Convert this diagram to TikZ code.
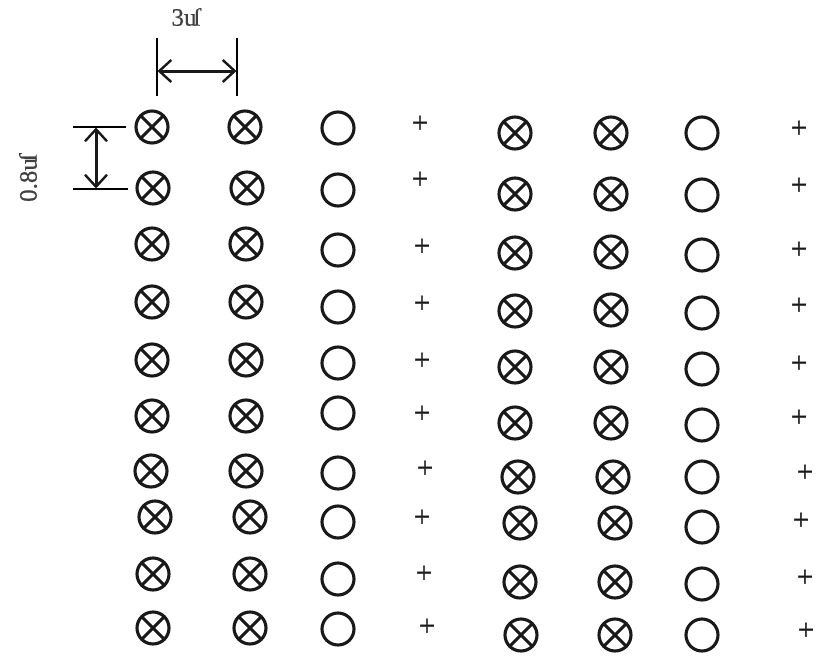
\documentclass[tikz,border=0pt]{standalone}
\usepackage{fontspec}
\setmainfont{Liberation Serif}
\newfontfamily\labfont[FakeBold=0.5]{Liberation Serif}
\newfontfamily\plusfont[FakeBold=1.5]{Liberation Serif}
\usetikzlibrary{arrows.meta}
\newcommand{\flipmu}{u\kern-0.12em ſ}
\tikzset{
  x=1pt,y=-1pt,
  ring/.style={circle,draw=black!90,line width=3.1pt,minimum size=32pt,inner sep=0pt},
  xring/.style={ring,path picture={
    \draw[black!90,line width=3pt] (path picture bounding box.south west)--(path picture bounding box.north east)
      (path picture bounding box.north west)--(path picture bounding box.south east);}},
  plusmark/.style={inner sep=0pt,font=\plusfont\fontsize{29}{29}\selectfont,text=black!90,yshift=-2pt},
  lab/.style={inner sep=0pt,font=\labfont\fontsize{25}{25}\selectfont,text=black!75},
  dimtick/.style={draw=black,line width=2pt},
  dimarrow/.style={draw=black!90,line width=3pt,{Straight Barb[length=12pt,width=22pt,line width=2.4pt]}-{Straight Barb[length=12pt,width=22pt,line width=2.4pt]},shorten <=0.5pt,shorten >=0.5pt},
}
\begin{document}
\begin{tikzpicture}
\useasboundingbox (0,0) rectangle (820,656);
% column 1
\foreach \n/\a/\b in {1/152/127,2/153/188,3/152/244,4/152/302,5/152/360,6/152/416,7/151/471,8/155/517,9/153/574,10/153/628}
  \node[xring] (a\n) at (\a,\b) {};
% column 2
\foreach \n/\a/\b in {1/245/127,2/247/188,3/246/244,4/246/302,5/246/360,6/246/416,7/246/471,8/250/517,9/250/574,10/250/628}
  \node[xring] (b\n) at (\a,\b) {};
% column 3
\foreach \n/\a/\b in {1/338/128,2/338/190,3/338/250,4/338/307,5/338/363,6/338/413,7/338/473,8/338/522,9/338/579,10/338/629}
  \node[ring] (c\n) at (\a,\b) {};
% column 4
\foreach \n/\a/\b in {1/420/122,2/420/178,3/422/245,4/422/302,5/422/359,6/422/412,7/425/467,8/422/516,9/424/572,10/427/625}
  \node[plusmark] (d\n) at (\a,\b) {+};
% column 5
\foreach \n/\a/\b in {1/515/133,2/515/194,3/515/253,4/515/311,5/515/367,6/515/423,7/518/477,8/520/523,9/520/582,10/521/635}
  \node[xring] (e\n) at (\a,\b) {};
% column 6
\foreach \n/\a/\b in {1/611/133,2/611/194,3/611/252,4/611/310,5/611/367,6/611/423,7/613/477,8/615/523,9/615/582,10/615/635}
  \node[xring] (f\n) at (\a,\b) {};
% column 7
\foreach \n/\a/\b in {1/702/133,2/702/195,3/702/255,4/702/313,5/702/369,6/702/425,7/702/477,8/702/527,9/702/584,10/702/635}
  \node[ring] (g\n) at (\a,\b) {};
% column 8
\foreach \n/\a/\b in {1/799/127,2/799/184,3/799/248,4/799/304,5/799/362,6/799/416,7/805/471,8/801/519,9/805/576,10/806/629}
  \node[plusmark] (h\n) at (\a,\b) {+};
% horizontal dimension
\coordinate (t1a) at (157,38); \coordinate (t1b) at (157,96);
\coordinate (t2a) at (237,38); \coordinate (t2b) at (237,96);
\coordinate (ha) at (157,71); \coordinate (hb) at (237,71);
\draw[dimtick] (t1a)--(t1b);
\draw[dimtick] (t2a)--(t2b);
\draw[dimarrow] (ha)--(hb);
% vertical dimension
\coordinate (u1a) at (73,127); \coordinate (u1b) at (126,127);
\coordinate (u2a) at (73,189); \coordinate (u2b) at (128,189);
\coordinate (va) at (96,127); \coordinate (vb) at (96,189);
\draw[dimtick] (u1a)--(u1b);
\draw[dimtick] (u2a)--(u2b);
\draw[dimarrow] (va)--(vb);
% labels
\node[lab] (lw) at (186,17) {3\flipmu};
\node[lab,rotate=90] (lh) at (28,178) {0.8\flipmu};
\end{tikzpicture}
\end{document}
